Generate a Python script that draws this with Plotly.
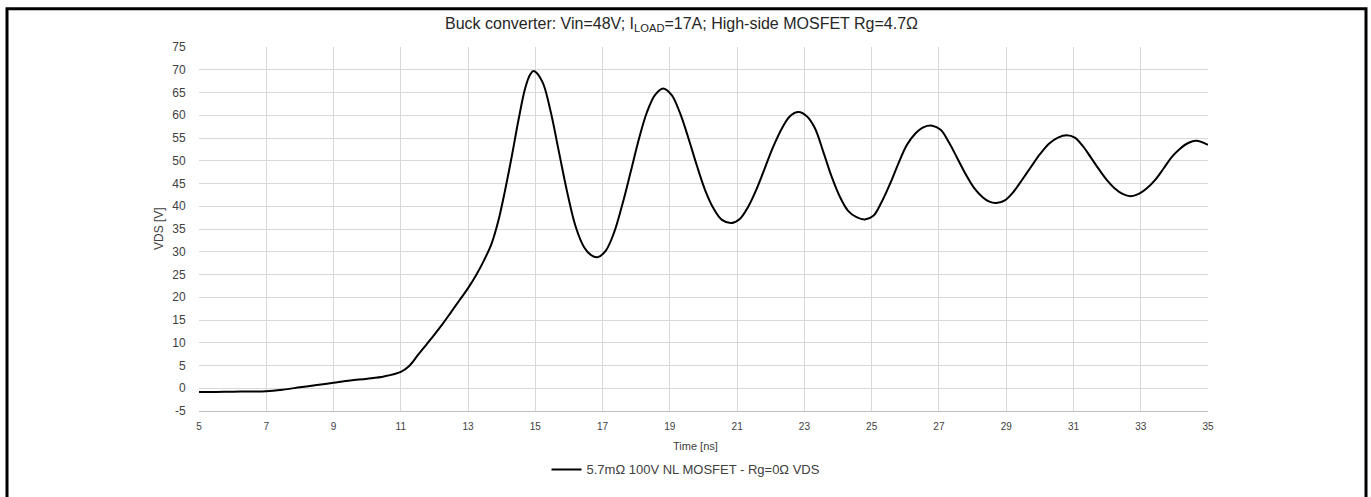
import plotly.graph_objects as go

# Data
time_ns = [5.0, 5.5, 6.0, 6.5, 7.0, 7.5, 8.0, 8.5, 9.0, 9.5, 10.0, 10.5, 11.0, 11.25,
           11.5, 11.75, 12.0, 12.25, 12.5, 12.75, 13.0, 13.25, 13.5, 13.7, 13.9, 14.1,
           14.3, 14.5, 14.7, 14.85, 14.95, 15.2, 15.45, 15.7, 15.95, 16.2, 16.45, 16.65,
           16.85, 17.09, 17.34, 17.58, 17.83, 18.07, 18.31, 18.56, 18.8, 19.05, 19.3,
           19.55, 19.8, 20.05, 20.3, 20.55, 20.83, 21.08, 21.33, 21.58, 21.83, 22.08,
           22.33, 22.57, 22.82, 23.07, 23.31, 23.56, 23.81, 24.06, 24.3, 24.55, 24.8,
           25.05, 25.3, 25.55, 25.8, 26.05, 26.3, 26.55, 26.8, 27.05, 27.3, 27.55, 27.8,
           28.05, 28.3, 28.5, 28.7, 28.96, 29.23, 29.49, 29.75, 30.01, 30.28, 30.54,
           30.8, 31.04, 31.28, 31.51, 31.75, 31.99, 32.23, 32.46, 32.7, 32.94, 33.19,
           33.43, 33.68, 33.92, 34.16, 34.41, 34.65, 35.0]
vds_v = [-0.8, -0.8, -0.75, -0.7, -0.65, -0.3, 0.2, 0.7, 1.2, 1.7, 2.1, 2.6, 3.6, 4.9,
         7.2, 9.5, 11.8, 14.2, 16.8, 19.4, 22.0, 25.0, 28.5, 31.8, 36.8, 43.5,
         51.0, 59.0, 66.0, 69.0, 69.7, 67.5, 61.0, 52.0, 43.0, 35.5, 31.0, 29.3,
         28.8, 30.2, 34.2, 40.2, 47.4, 54.5, 60.5, 64.5, 65.9, 64.5, 60.5,
         55.0, 49.0, 43.5, 39.5, 37.0, 36.3, 37.2, 39.9, 43.8, 48.5, 53.2,
         57.1, 59.8, 60.7, 59.8, 57.2, 52.0, 46.5, 42.0, 39.0, 37.6, 37.1,
         37.9, 41.0, 45.0, 49.5, 53.5, 56.0, 57.4, 57.7, 56.8, 54.0, 50.5, 47.0,
         44.0, 42.0, 41.0, 40.7, 41.3, 43.3, 46.0, 48.8, 51.5, 53.8, 55.1,
         55.6, 55.1, 53.2, 50.8, 48.2, 45.8, 43.9, 42.7, 42.2, 42.7, 44.0,
         45.8, 48.3, 50.8, 52.6, 53.9, 54.4, 53.5]

x_ticks = list(range(5, 36, 2))
y_ticks = list(range(-5, 76, 5))

series_name = "5.7mΩ 100V NL MOSFET - Rg=0Ω VDS"
title_text = "Buck converter: Vin=48V; I<sub>LOAD</sub>=17A; High-side MOSFET Rg=4.7Ω"

FONT = "Liberation Sans, Arial, sans-serif"

fig = go.Figure()
fig.add_trace(go.Scatter(
    x=time_ns, y=vds_v, mode="lines", name=series_name,
    line=dict(color="black", width=2, shape="spline", smoothing=1.0),
))

W, H = 1371, 497
L, R, T, B = 199, 1208, 47, 427
pw, ph = R - L, B - T


def px(xp):
    return (xp - L) / pw


def py(yp):
    return (B - yp) / ph


fig.update_layout(
    width=W, height=H,
    margin=dict(l=L, r=W - R, t=T, b=H - B, pad=0),
    paper_bgcolor="white", plot_bgcolor="white",
    font=dict(family=FONT, size=11, color="#404040"),
    showlegend=True,
    legend=dict(orientation="h", x=px(686), xanchor="center", y=py(488), yanchor="middle",
                font=dict(family=FONT, size=13, color="#404040"),
                itemwidth=30, bgcolor="rgba(0,0,0,0)"),
    xaxis=dict(range=[5, 35], tickvals=x_ticks, ticktext=[str(v) for v in x_ticks],
               showgrid=True, gridcolor="#d9d9d9", gridwidth=1,
               showline=True, linecolor="#bfbfbf", linewidth=1,
               zeroline=False, ticks="outside", ticklen=6, tickcolor="rgba(0,0,0,0)",
               tickfont=dict(size=10, color="#404040")),
    yaxis=dict(range=[-5, 75], tickvals=y_ticks, ticktext=[str(v) for v in y_ticks],
               showgrid=True, gridcolor="#d9d9d9", gridwidth=1,
               showline=False, zeroline=False,
               ticks="outside", ticklen=10, tickcolor="rgba(0,0,0,0)",
               tickfont=dict(size=12, color="#404040")),
    annotations=[
        dict(text=title_text, xref="paper", yref="paper", x=px(681), y=py(24),
             xanchor="center", yanchor="middle", showarrow=False,
             font=dict(family=FONT, size=16, color="#262626")),
        dict(text="Time [ns]", xref="paper", yref="paper", x=px(695), y=py(464),
             xanchor="center", yanchor="middle", showarrow=False,
             font=dict(family=FONT, size=11, color="#404040")),
        dict(text="VDS [V]", xref="paper", yref="paper", x=px(159), y=py(237),
             xanchor="center", yanchor="middle", showarrow=False, textangle=-90,
             font=dict(family=FONT, size=12, color="#404040")),
    ],
    shapes=[
        dict(type="rect", xref="paper", yref="paper",
             x0=px(7), x1=px(1366), y0=py(520), y1=py(7),
             line=dict(color="black", width=3), fillcolor="rgba(0,0,0,0)", layer="above"),
    ],
)

fig.write_html("out.html", config={"displayModeBar": False},
               post_script="document.body.style.margin='0';")
